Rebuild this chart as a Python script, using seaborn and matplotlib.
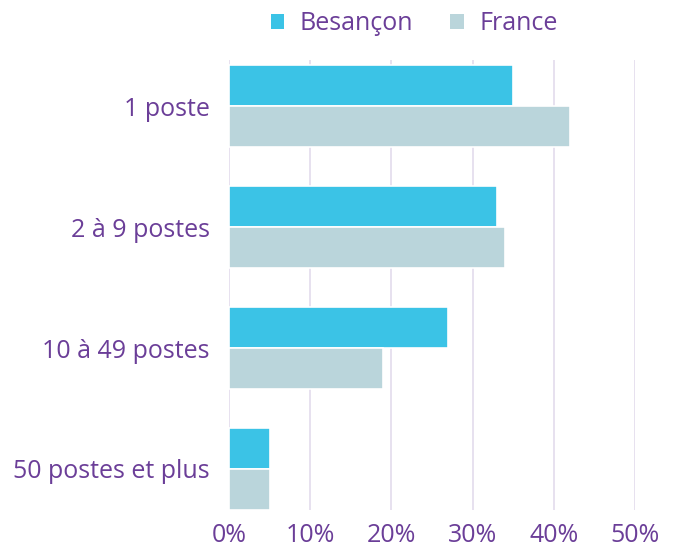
import matplotlib
matplotlib.use("Agg")
import matplotlib.pyplot as plt
from matplotlib.patches import Patch
import seaborn as sns
import pandas as pd

categories = ["1 poste", "2 à 9 postes", "10 à 49 postes", "50 postes et plus"]
besancon = [35, 33, 27, 5]
france = [42, 34, 19, 5]
series_names = ["Besançon", "France"]
x_ticks = [0, 10, 20, 30, 40, 50]
x_tick_labels = ["0%", "10%", "20%", "30%", "40%", "50%"]

colors = ["#3bc3e6", "#bad5db"]
text_color = "#6b3e98"
grid_color = "#e3dcec"

df = pd.DataFrame({
    "cat": categories * 2,
    "val": besancon + france,
    "serie": [series_names[0]] * 4 + [series_names[1]] * 4,
})

sns.set_theme(style="white")
plt.rcParams["font.family"] = ["Open Sans", "DejaVu Sans"]
plt.rcParams["font.weight"] = "medium"

fig = plt.figure(figsize=(6.76, 5.48), dpi=100)
ax = fig.add_axes([229 / 676, 1 - 510 / 548, 406 / 676, 450 / 548])

sns.barplot(data=df, y="cat", x="val", hue="serie", orient="h",
            palette=colors, saturation=1, width=0.68, ax=ax, legend=False,
            edgecolor="white", linewidth=1.2, zorder=3)

ax.set_xlim(0, 50)
ax.set_ylim(3.34, -0.384)
ax.set_xticks(x_ticks)
ax.set_xticklabels(x_tick_labels)
ax.set_xlabel("")
ax.set_ylabel("")
ax.grid(axis="x", color=grid_color, linewidth=1.2, zorder=0)
ax.grid(axis="y", visible=False)
for s in ax.spines.values():
    s.set_visible(False)
ax.tick_params(axis="both", length=0, colors=text_color, labelsize=18)
ax.tick_params(axis="x", pad=9)
ax.tick_params(axis="y", pad=14)

handles = [Patch(facecolor=colors[0], edgecolor="none"),
           Patch(facecolor=colors[1], edgecolor="none")]
leg = fig.legend(handles, series_names, loc="center", bbox_to_anchor=(414 / 676, 1 - 24 / 548),
                 ncol=2, frameon=False, fontsize=18, handlelength=0.55, handleheight=0.55,
                 handletextpad=0.6, columnspacing=1.5)
for t in leg.get_texts():
    t.set_color(text_color)

fig.savefig("out.png", dpi=100)
